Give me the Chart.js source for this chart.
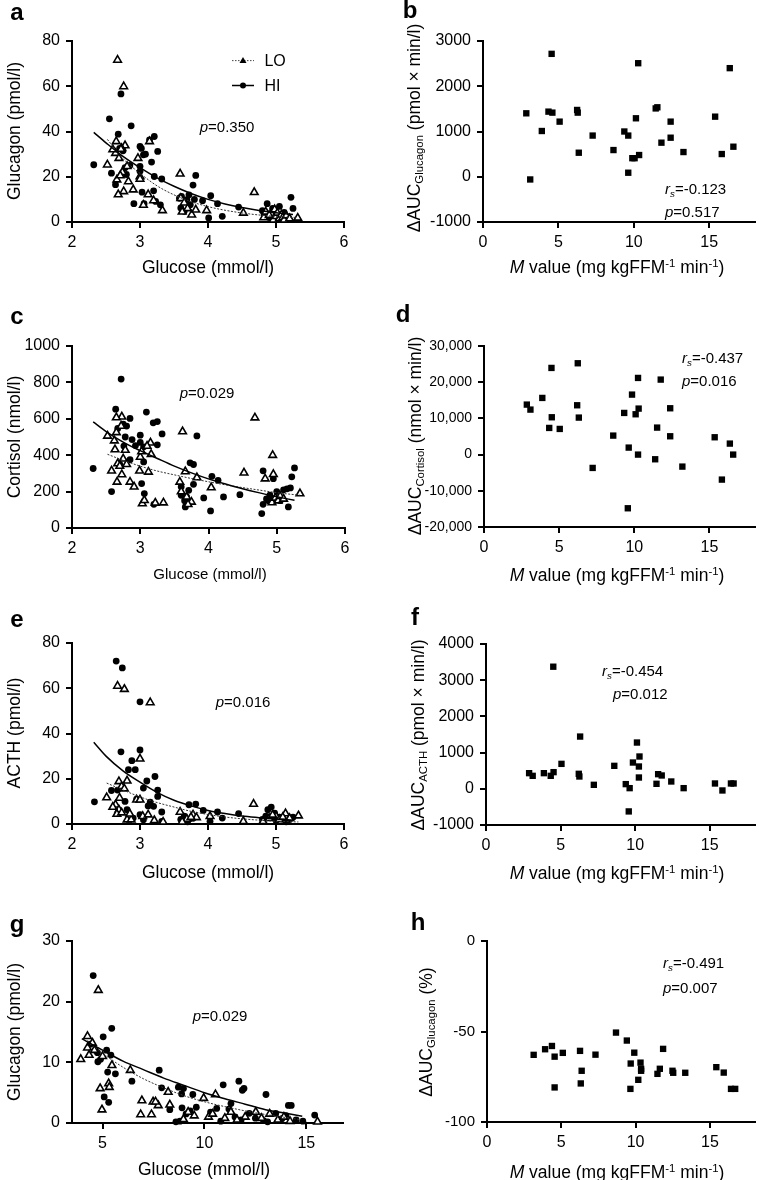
<!DOCTYPE html>
<html>
<head>
<meta charset="utf-8">
<script src="https://cdn.jsdelivr.net/npm/chart.js@4.4.1/dist/chart.umd.min.js"></script>
<style>
  body { margin: 0; background: #fff; }
  #fig { position: relative; width: 759px; height: 1180px; font-family: "Liberation Sans", Arial, Helvetica, sans-serif; color: #000; }
  canvas { position: absolute; }
  .t { position: absolute; white-space: nowrap; line-height: 1; transform: translate(-50%, -50%); }
  .l { position: absolute; white-space: nowrap; line-height: 1; transform: translate(0, -50%); font-size: 15px; }
  .rot { transform: translate(-50%, -50%) rotate(-90deg); }
  .ttl { font-size: 17.5px; }
  .let { font-size: 24px; font-weight: bold; }
  .ann { font-size: 15px; }
  sub { font-size: 65%; vertical-align: -0.25em; }
  sup { font-size: 65%; vertical-align: 0.55em; }
  i { font-style: italic; }
</style>
</head>
<body>
<div id="fig">
  <canvas id="cA" width="380" height="290" style="left:0;top:0"></canvas>
  <canvas id="cB" width="379" height="290" style="left:380px;top:0"></canvas>
  <canvas id="cC" width="380" height="300" style="left:0;top:290px"></canvas>
  <canvas id="cD" width="379" height="300" style="left:380px;top:290px"></canvas>
  <canvas id="cE" width="380" height="295" style="left:0;top:590px"></canvas>
  <canvas id="cF" width="379" height="295" style="left:380px;top:590px"></canvas>
  <canvas id="cG" width="380" height="295" style="left:0;top:885px"></canvas>
  <canvas id="cH" width="379" height="295" style="left:380px;top:885px"></canvas>

  <!-- panel letters -->
  <div class="t let" style="left:17px;top:12px">a</div>
  <div class="t let" style="left:410px;top:10px">b</div>
  <div class="t let" style="left:17px;top:316px">c</div>
  <div class="t let" style="left:403px;top:314px">d</div>
  <div class="t let" style="left:17px;top:619px">e</div>
  <div class="t let" style="left:415px;top:617px">f</div>
  <div class="t let" style="left:17px;top:924px">g</div>
  <div class="t let" style="left:418px;top:922px">h</div>

  <!-- a -->
  <div class="t ttl rot" style="left:15px;top:131px">Glucagon (pmol/l)</div>
  <div class="t ttl" style="left:208px;top:268px">Glucose (mmol/l)</div>
  <div class="t ann" style="left:227px;top:126px"><i>p</i>=0.350</div>
  <div class="l" style="left:232px;top:60px;font-size:16px">
    <svg width="22" height="10" style="vertical-align:middle"><line x1="0" y1="5" x2="22" y2="5" stroke="#444" stroke-width="1" stroke-dasharray="1.5,1.5"/><polygon points="11,1.5 14.5,7.5 7.5,7.5" fill="#000"/></svg>
    <span style="margin-left:6px;vertical-align:middle">LO</span>
  </div>
  <div class="l" style="left:232px;top:85px;font-size:16px">
    <svg width="22" height="10" style="vertical-align:middle"><line x1="0" y1="5" x2="22" y2="5" stroke="#000" stroke-width="1.5"/><circle cx="11" cy="5" r="3" fill="#000"/></svg>
    <span style="margin-left:6px;vertical-align:middle">HI</span>
  </div>

  <!-- b -->
  <div class="t ttl rot" style="left:416px;top:128px">ΔAUC<sub>Glucagon</sub> (pmol × min/l)</div>
  <div class="t ttl" style="left:617px;top:267px"><i>M</i> value (mg kgFFM<sup>-1</sup> min<sup>-1</sup>)</div>
  <div class="l" style="left:665px;top:190px"><i>r<sub>s</sub></i>=-0.123</div>
  <div class="l" style="left:665px;top:211px"><i>p</i>=0.517</div>

  <!-- c -->
  <div class="t ttl rot" style="left:15px;top:437px">Cortisol (nmol/l)</div>
  <div class="t" style="left:210px;top:573px;font-size:15px">Glucose (mmol/l)</div>
  <div class="t ann" style="left:207px;top:392px"><i>p</i>=0.029</div>

  <!-- d -->
  <div class="t ttl rot" style="left:417px;top:436px">ΔAUC<sub>Cortisol</sub> (nmol × min/l)</div>
  <div class="t ttl" style="left:617px;top:575px"><i>M</i> value (mg kgFFM<sup>-1</sup> min<sup>-1</sup>)</div>
  <div class="l" style="left:682px;top:359px"><i>r<sub>s</sub></i>=-0.437</div>
  <div class="l" style="left:682px;top:380px"><i>p</i>=0.016</div>

  <!-- e -->
  <div class="t ttl rot" style="left:15px;top:733px">ACTH (pmol/l)</div>
  <div class="t ttl" style="left:208px;top:873px">Glucose (mmol/l)</div>
  <div class="t ann" style="left:243px;top:701px"><i>p</i>=0.016</div>

  <!-- f -->
  <div class="t ttl rot" style="left:420px;top:735px">ΔAUC<sub>ACTH</sub> (pmol × min/l)</div>
  <div class="t ttl" style="left:617px;top:873px"><i>M</i> value (mg kgFFM<sup>-1</sup> min<sup>-1</sup>)</div>
  <div class="l" style="left:602px;top:672px"><i>r<sub>s</sub></i>=-0.454</div>
  <div class="l" style="left:613px;top:693px"><i>p</i>=0.012</div>

  <!-- g -->
  <div class="t ttl rot" style="left:15px;top:1032px">Glucagon (pmol/l)</div>
  <div class="t ttl" style="left:204px;top:1170px">Glucose (mmol/l)</div>
  <div class="t ann" style="left:220px;top:1015px"><i>p</i>=0.029</div>

  <!-- h -->
  <div class="t ttl rot" style="left:428px;top:1032px">ΔAUC<sub>Glucagon</sub> (%)</div>
  <div class="t ttl" style="left:617px;top:1172px"><i>M</i> value (mg kgFFM<sup>-1</sup> min<sup>-1</sup>)</div>
  <div class="l" style="left:663px;top:964px"><i>r<sub>s</sub></i>=-0.491</div>
  <div class="l" style="left:663px;top:987px"><i>p</i>=0.007</div>
</div>

<script>
// ---------- data ----------
// a: glucagon vs glucose (clamp 1)
const aLo = [[2.67,71.6],[2.76,59.9],[2.65,35.6],[2.78,33.8],[2.73,32.6],[2.64,30.4],[2.69,28.2],[2.52,25.3],[2.66,18.7],[2.76,13.5],
  [2.68,12.1],[2.83,17.9],[2.90,14.3],[2.81,24.6],[2.74,22.0],[2.71,20.5],[2.97,28.2],[3.00,20.1],[3.00,19.0],[3.14,35.6],
  [3.12,12.1],[3.20,9.5],[3.33,5.1],[3.59,21.3],[3.60,10.5],[3.65,8.5],[3.70,6.0],[3.62,4.5],[3.76,3.2],[3.82,5.4],
  [3.98,5.1],[4.52,4.0],[4.68,13.1],[4.82,2.0],[4.85,4.5],[4.90,3.0],[4.96,1.0],[4.98,5.5],[5.00,2.5],[5.02,4.0],
  [5.05,1.5],[5.08,3.2],[5.10,2.0],[5.12,1.0],[5.15,2.8],[5.20,1.5],[5.32,1.8],[3.05,7.5],[2.60,32.0],[2.72,32.2]];
const aHi = [[2.32,25.3],[2.55,45.6],[2.58,21.6],[2.64,16.5],[2.68,38.8],[2.72,56.6],[2.70,32.5],[2.75,31.5],[2.78,24.0],[2.80,21.0],
  [2.85,25.0],[2.87,42.5],[2.91,8.1],[3.00,33.4],[3.02,32.5],[3.05,29.7],[3.00,24.6],[3.00,22.4],[3.03,13.2],[3.06,8.1],
  [3.08,30.0],[3.14,36.3],[3.17,26.5],[3.21,37.8],[3.21,20.1],[3.20,13.8],[3.23,9.1],[3.26,31.2],[3.30,7.6],[3.32,19.0],
  [3.58,10.5],[3.60,6.2],[3.61,11.3],[3.65,4.7],[3.69,9.9],[3.72,12.0],[3.74,7.6],[3.78,16.3],[3.82,20.6],[3.80,10.0],
  [3.92,9.4],[4.01,1.8],[4.04,11.6],[4.14,8.1],[4.21,2.5],[4.45,6.6],[4.80,5.0],[4.87,8.1],[4.90,2.0],[4.95,6.0],
  [5.00,3.5],[5.05,6.9],[5.08,1.2],[5.12,4.2],[5.18,1.8],[5.22,10.9],[5.25,6.0],[5.10,2.8],[4.83,3.2]];
const aHiFit = [[2.32,39.6],[2.5,35],[2.75,29],[3.0,24],[3.25,19.5],[3.5,15.8],[3.75,12.6],[4.0,10],[4.25,8],[4.5,6.4],[4.75,5.1],[5.0,4.1],[5.25,3.3]];
const aLoFit = [[2.52,36.5],[2.75,28],[3.0,21.5],[3.25,16],[3.5,12],[3.75,9],[4.0,6.8],[4.25,5.2],[4.5,4.0],[4.75,3.1],[5.0,2.5],[5.3,2.0]];

// b: delta AUC glucagon vs M value
const bPts = [[2.87,1402],[3.13,-60],[3.9,1011],[4.34,1439],[4.55,2716],[4.6,1417],[5.08,1218],[6.24,1476],[6.28,1417],[6.35,531],
  [7.27,910],[8.65,590],[9.37,1000],[9.63,910],[9.63,89],[9.9,410],[10.05,410],[10.14,1292],[10.29,2509],[10.35,480],
  [11.45,1510],[11.56,1535],[11.83,753],[12.44,1218],[12.44,863],[13.29,546],[15.39,1328],[15.83,502],[16.36,2400],[16.6,664]];

// c: cortisol vs glucose
const cLo = [[2.73,611],[2.65,607],[2.52,506],[2.65,525],[2.63,431],[2.78,428],[2.67,354],[2.58,314],[2.66,253],[2.73,294],
  [2.85,253],[2.91,226],[2.99,314],[3.12,308],[3.15,468],[3.16,405],[3.03,134],[3.06,152],[3.22,138],[3.34,139],
  [3.62,530],[3.66,310],[3.58,253],[3.83,277],[3.68,171],[3.75,143],[3.60,200],[3.70,130],[4.04,222],[4.52,303],
  [4.68,606],[4.94,400],[4.95,295],[4.83,271],[5.34,189],[4.93,140],[4.98,165],[5.02,150],[5.05,175],[5.10,160],
  [2.70,340],[2.75,380],[2.80,350],[3.00,390],[3.02,420],[2.62,480],[2.72,560],[3.10,450]];
const cHi = [[2.31,327],[2.58,200],[2.64,653],[2.72,818],[2.67,547],[2.75,571],[2.85,602],[2.80,560],[2.88,486],[2.93,453],
  [3.00,510],[3.00,470],[3.09,637],[3.19,578],[3.25,585],[3.25,457],[3.32,517],[3.05,446],[3.05,363],[3.02,244],
  [3.06,189],[3.20,130],[3.73,358],[3.78,349],[3.83,506],[3.78,240],[3.71,207],[3.66,116],[3.93,165],[4.03,94],
  [4.05,284],[4.14,262],[4.22,171],[4.46,183],[4.78,79],[4.80,314],[4.95,271],[5.26,330],[5.22,281],[5.17,116],
  [3.60,226],[3.68,171],[2.76,450],[2.70,350],[2.85,375],[2.78,500],[3.60,180],[3.65,150],[4.85,160],[4.90,180],
  [5.00,200],[5.05,150],[5.10,210],[5.15,215],[5.20,220],[4.80,130],[4.88,150]];
const cHiFit = [[2.31,583],[2.5,530],[2.75,472],[3.0,425],[3.25,382],[3.5,340],[3.75,303],[4.0,270],[4.25,242],[4.5,216],[4.75,193],[5.0,172],[5.26,152]];
const cLoFit = [[2.52,405],[2.75,372],[3.0,340],[3.25,313],[3.5,292],[3.75,272],[4.0,254],[4.25,237],[4.5,222],[4.75,208],[5.0,194],[5.34,180]];

// d: delta AUC cortisol vs M value
const dPts = [[2.85,13812],[3.09,12431],[3.88,15654],[4.34,7366],[4.49,23941],[4.51,10313],[5.04,7090],[6.24,25230],[6.2,13628],[6.31,10221],
  [7.23,-3683],[8.6,5249],[9.33,11510],[9.63,1934],[9.57,-14825],[9.85,16575],[10.09,11142],[10.25,21179],[10.29,12707],[10.25,0],
  [11.39,-1289],[11.52,7459],[11.76,20718],[12.39,12799],[12.39,5064],[13.2,-3315],[15.35,4788],[15.83,-6906],[16.36,3039],[16.58,0]];

// e: ACTH vs glucose
const eLo = [[2.67,61],[2.77,59.6],[3.15,53.7],[3.0,28.8],[2.69,18.8],[2.81,19.1],[2.73,16.6],[2.77,15.6],[2.51,11.7],[2.7,11.5],
  [2.95,10.7],[3.0,10.7],[2.64,8.5],[2.69,6.3],[2.66,4.4],[2.73,5.0],[2.81,1.9],[2.87,1.9],[3.04,3.4],[3.12,4.1],
  [3.21,1.6],[3.34,0.9],[3.59,5.3],[3.78,4.1],[3.83,2.9],[3.69,2.2],[3.62,1.0],[4.03,3.4],[4.52,1.2],[4.67,8.8],
  [5.14,4.6],[5.33,3.7],[5.0,3.4],[4.81,1.2],[4.9,2.5],[4.95,4.0],[5.05,2.0],[5.1,3.0],[5.2,2.5],[2.85,4.5],
  [2.6,7.5],[3.75,3.0]];
const eHi = [[2.65,72],[2.74,69],[3.0,54],[3.0,32.7],[2.72,31.9],[2.88,28],[2.83,24],[2.93,24],[3.1,19],[3.22,21],
  [2.33,9.8],[2.58,14.8],[2.67,15],[3.05,15.9],[3.26,15],[3.26,12.2],[3.15,9.7],[3.2,7.8],[3.32,5.3],[3.32,1.2],
  [2.78,10],[2.81,6.3],[2.9,2.6],[3.0,4.1],[3.05,1.9],[3.72,8.5],[3.82,8.8],[3.93,6.0],[4.14,5.3],[4.21,2.6],
  [4.45,4.6],[4.03,1.2],[4.93,7.5],[4.88,6.3],[4.98,4.8],[3.6,2.0],[3.65,3.5],[3.7,1.0],[3.78,2.5],[4.8,2.0],
  [4.85,3.5],[5.0,1.5],[5.05,3.0],[5.1,2.2],[5.15,1.0],[5.2,2.0],[5.25,3.0],[2.95,11],[3.12,8]];
const eHiFit = [[2.32,36.1],[2.5,30],[2.75,23.5],[3.0,18.5],[3.25,14],[3.5,10.5],[3.75,8],[4.0,6],[4.25,4.6],[4.5,3.5],[4.75,2.8],[5.0,2.2],[5.25,1.7]];
const eLoFit = [[2.51,18.1],[2.75,15],[3.0,12],[3.25,9.5],[3.5,7.5],[3.75,5.6],[4.0,4.2],[4.25,3.1],[4.5,2.3],[4.75,1.7],[5.0,1.2],[5.33,0.9]];

// f: delta AUC ACTH vs M value
const fPts = [[2.89,432],[3.13,358],[3.88,432],[4.34,358],[4.51,3373],[4.53,460],[5.06,689],[6.31,1443],[6.22,414],[6.26,340],
  [7.23,110],[8.6,634],[9.37,129],[9.63,18],[9.57,-625],[9.85,726],[10.12,1278],[10.29,892],[10.25,616],[10.25,312],
  [11.43,138],[11.54,404],[11.78,368],[12.42,202],[13.25,18],[15.35,147],[15.85,-46],[16.42,147],[16.6,147]];

// g: glucagon vs glucose (clamp 2)
const gLo = [[3.93,10.5],[4.26,14.3],[4.26,12.4],[4.34,11.2],[4.5,13.2],[4.79,21.9],[4.88,5.7],[4.97,2.2],[5.3,6.5],[5.33,5.9],
  [5.46,9.5],[6.36,8.7],[6.93,3.7],[6.87,1.4],[7.4,1.4],[7.48,3.5],[7.73,2.9],[8.22,5.1],[8.97,0.6],[9.96,4.1],
  [10.54,4.7],[12.52,1.8],[15.55,0.2],[8.3,3.0],[9.2,1.8],[9.5,1.2],[10.2,1.0],[10.4,1.5],[11.0,0.8],[11.3,1.8],
  [11.6,0.5],[12.0,1.0],[12.8,0.8],[13.2,1.5],[13.6,0.5],[13.9,1.0],[14.2,0.3],[4.6,12],[5.0,11],[7.6,3.5]];
const gHi = [[4.54,24.3],[5.03,14.2],[5.45,15.6],[5.2,12.0],[5.41,11.2],[4.75,11.6],[4.77,10.1],[5.08,4.3],[5.3,3.4],[5.25,8.4],
  [5.63,8.1],[6.44,6.9],[7.78,8.7],[7.9,5.8],[8.72,5.9],[8.97,5.7],[8.88,4.8],[9.43,4.7],[10.92,6.3],[11.69,6.9],
  [11.86,5.4],[11.94,5.7],[13.02,4.7],[14.12,2.9],[14.26,2.9],[15.41,1.3],[14.83,0.3],[8.3,2.2],[8.6,0.2],[8.8,0.3],
  [8.9,2.5],[9.1,1.5],[9.3,2.0],[9.6,2.6],[10.3,1.8],[10.6,2.4],[11.2,2.3],[11.3,3.2],[11.5,1.0],[11.8,0.5],
  [12.2,1.6],[12.5,0.8],[12.9,0.4],[13.1,0.2],[13.5,1.6],[13.8,0.7],[14.0,1.2],[14.5,0.5],[10.8,0.3],[4.4,13.0],
  [4.65,12.0],[4.9,10.5]];
const gHiFit = [[3.98,13.9],[5,12.0],[6,10.2],[7,8.8],[8,7.4],[9,6.2],[10,5.0],[11,4.0],[12,3.1],[13,2.2],[14,1.6],[14.8,1.1]];
const gLoFit = [[4.26,13.6],[5,11.5],[6,9.2],[7,7.3],[8,5.8],[9,4.5],[10,3.5],[11,2.7],[12,2.0],[13,1.4],[14,0.9],[14.75,0.55]];

// h: delta AUC glucagon (%) vs M value
const hPts = [[3.14,-62.9],[3.91,-59.8],[4.37,-58],[4.55,-63.9],[4.55,-80.9],[5.1,-61.8],[6.26,-60.7],[6.37,-71.7],[6.31,-78.7],[7.3,-62.8],
  [8.68,-50.6],[9.41,-55],[9.91,-61.7],[9.67,-67.7],[9.65,-81.7],[10.18,-76.7],[10.33,-67.2],[10.37,-70.6],[10.37,-71.7],[11.47,-73.4],
  [11.63,-70.6],[11.85,-59.6],[12.48,-71.7],[12.53,-72.8],[13.34,-72.8],[15.43,-69.7],[15.93,-72.7],[16.42,-81.7],[16.7,-81.7]];

// tick values
const glucoseTicks = [2, 3, 4, 5, 6];
const glucoseTicksG = [5, 10, 15];
const mTicks = [0, 5, 10, 15];
const aYTicks = [0, 20, 40, 60, 80];
const bYTicks = [-1000, 0, 1000, 2000, 3000];
const cYTicks = [0, 200, 400, 600, 800, 1000];
const dYTicks = [-20000, -10000, 0, 10000, 20000, 30000];
const eYTicks = [0, 20, 40, 60, 80];
const fYTicks = [-1000, 0, 1000, 2000, 3000, 4000];
const gYTicks = [0, 10, 20, 30];
const hYTicks = [-100, -50, 0];

// ---------- drawing ----------
const FONT = '"Liberation Sans", Arial, Helvetica, sans-serif';
Chart.defaults.color = '#000';
Chart.defaults.font.family = FONT;

const xy = arr => arr.map(p => ({x: p[0], y: p[1]}));

const loSet = arr => ({data: xy(arr), pointStyle: 'triangle', pointRadius: 4.4, backgroundColor: '#fff', borderColor: '#000', pointBorderWidth: 1.6, clip: false});
const hiSet = arr => ({data: xy(arr), pointStyle: 'circle', pointRadius: 3.4, backgroundColor: '#000', borderColor: '#000', pointBorderWidth: 0, clip: false});
const sqSet = arr => ({data: xy(arr), pointStyle: 'rect', pointRadius: 4.5, backgroundColor: '#000', borderColor: '#000', pointBorderWidth: 0, clip: false});
const fitHi = arr => ({data: xy(arr), showLine: true, pointRadius: 0, borderColor: '#000', borderWidth: 1.5, cubicInterpolationMode: 'monotone'});
const fitLo = arr => ({data: xy(arr), showLine: true, pointRadius: 0, borderColor: '#333', borderWidth: 1, borderDash: [2, 1.5], cubicInterpolationMode: 'monotone'});

function axis(min, max, ticks, size, isX, fontSize, fmt) {
  return {
    type: 'linear', min: min, max: max,
    border: {display: true, color: '#000', width: 2},
    grid: {drawOnChartArea: false, drawTicks: true, tickLength: 6, color: '#000', lineWidth: 2},
    ticks: {color: '#000', font: {size: fontSize, family: FONT}, padding: isX ? 5 : 6, maxRotation: 0, autoSkip: false,
            callback: fmt || (v => String(v))},
    afterBuildTicks: s => { s.ticks = ticks.map(v => ({value: v})); },
    afterFit: s => { if (isX) s.height = size; else s.width = size; }
  };
}

function panel(id, c) {
  return new Chart(document.getElementById(id), {
    type: 'scatter',
    data: {datasets: c.datasets},
    options: {
      responsive: false,
      animation: false,
      layout: {padding: {left: 0, top: c.top, right: c.right, bottom: 0}},
      plugins: {legend: {display: false}, tooltip: {enabled: false}},
      scales: {
        x: axis(c.x[0], c.x[1], c.xTicks, c.xH, true, c.fs || 16),
        y: axis(c.y[0], c.y[1], c.yTicks, c.yW, false, c.fsY || c.fs || 16, c.fmt)
      }
    }
  });
}

const commas = v => v.toLocaleString('en-US');

panel('cA', {datasets: [fitHi(aHiFit), fitLo(aLoFit), loSet(aLo), hiSet(aHi)],
  x: [2, 6], y: [0, 80], xTicks: glucoseTicks, yTicks: aYTicks, top: 41, right: 36, xH: 68, yW: 72});
panel('cB', {datasets: [sqSet(bPts)],
  x: [0, 18], y: [-1000, 3000], xTicks: mTicks, yTicks: bYTicks, top: 41, right: 1, xH: 68, yW: 103});
panel('cC', {datasets: [fitHi(cHiFit), fitLo(cLoFit), loSet(cLo), hiSet(cHi)],
  x: [2, 6], y: [0, 1000], xTicks: glucoseTicks, yTicks: cYTicks, top: 56, right: 35, xH: 62, yW: 72});
panel('cD', {datasets: [sqSet(dPts)],
  x: [0, 18], y: [-20000, 30000], xTicks: mTicks, yTicks: dYTicks, top: 56, right: 1, xH: 63, yW: 104, fsY: 14, fmt: commas});
panel('cE', {datasets: [fitHi(eHiFit), fitLo(eLoFit), loSet(eLo), hiSet(eHi)],
  x: [2, 6], y: [0, 80], xTicks: glucoseTicks, yTicks: eYTicks, top: 53, right: 36, xH: 61, yW: 72});
panel('cF', {datasets: [sqSet(fPts)],
  x: [0, 18], y: [-1000, 4000], xTicks: mTicks, yTicks: fYTicks, top: 54, right: 1, xH: 60, yW: 106});
panel('cG', {datasets: [fitHi(gHiFit), fitLo(gLoFit), loSet(gLo), hiSet(gHi)],
  x: [3.5, 16.8], y: [0, 30], xTicks: glucoseTicksG, yTicks: gYTicks, top: 56, right: 37, xH: 57, yW: 72});
panel('cH', {datasets: [sqSet(hPts)],
  x: [0, 18], y: [-100, 0], xTicks: mTicks, yTicks: hYTicks, top: 56, right: 1, xH: 58, yW: 107, fsY: 15});
</script>
</body>
</html>
